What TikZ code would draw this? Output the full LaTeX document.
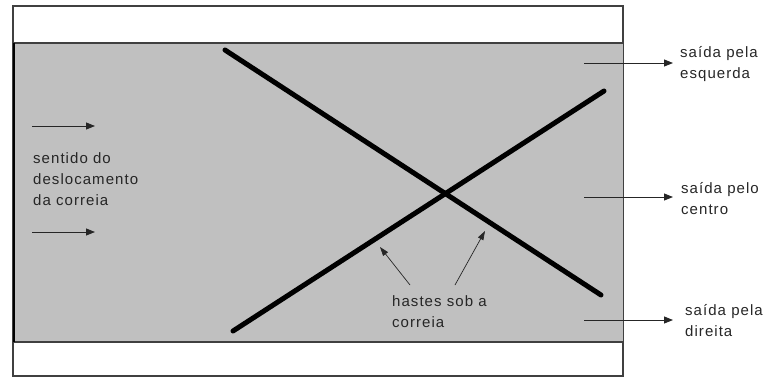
\documentclass[tikz,border=0pt]{standalone}
\usepackage{fontspec}
\setmainfont{Liberation Sans}[LetterSpace=7]
\usetikzlibrary{arrows.meta}
\definecolor{belt}{HTML}{C0C0C0}
\definecolor{frame}{HTML}{404040}
\tikzset{
  lbl/.style={inner sep=0pt, anchor=base west, align=left, font=\fontsize{15}{21}\selectfont, text=black!85},
  flow/.style={line width=0.9pt, black!85, -{Triangle[length=9pt,width=7pt]}},
  rod/.style={line width=5pt, line cap=round, black},
  note/.style={line width=0.7pt, black!85, -{Triangle[length=9pt,width=6pt]}},
}
\begin{document}
\begin{tikzpicture}[x=1pt,y=-1pt]
\useasboundingbox (0,0) rectangle (763,378);
% outer frame
\draw[frame, line width=1.4pt] (13,6) rectangle (623,376);
% belt
\fill[belt] (14,43) rectangle (623,342);
\draw[frame, line width=1.4pt] (14,43) -- (623,43);
\draw[frame, line width=1.4pt] (14,342) -- (623,342);
\draw[black, line width=2pt] (14,43) -- (14,342);
% rods
\coordinate (r1a) at (225,50);
\coordinate (r1b) at (601,295);
\coordinate (r2a) at (233,331);
\coordinate (r2b) at (604,91);
\draw[rod] (r1a) -- (r1b);
\draw[rod] (r2a) -- (r2b);
% direction arrows
\coordinate (d1a) at (32,126); \coordinate (d1b) at (95,126);
\coordinate (d2a) at (32,232); \coordinate (d2b) at (95,232);
\draw[flow] (d1a) -- (d1b);
\draw[flow] (d2a) -- (d2b);
\node[lbl] (sent) at (33,205) {sentido do\\deslocamento\\da correia};
% exits
\coordinate (e1a) at (584,63); \coordinate (e1b) at (673,63);
\coordinate (e2a) at (584,197); \coordinate (e2b) at (673,197);
\coordinate (e3a) at (584,320); \coordinate (e3b) at (673,320);
\draw[flow] (e1a) -- (e1b);
\draw[flow] (e2a) -- (e2b);
\draw[flow] (e3a) -- (e3b);
\node[lbl] (esq) at (680,78) {saída pela\\esquerda};
\node[lbl] (cen) at (681,214) {saída pelo\\centro};
\node[lbl] (dir) at (685,336) {saída pela\\direita};
% rods note
\node[lbl] (hastes) at (392,327) {hastes sob a\\correia};
\coordinate (h1a) at (410,285); \coordinate (h1b) at (380,247);
\coordinate (h2a) at (455,285); \coordinate (h2b) at (485,231);
\draw[note] (h1a) -- (h1b);
\draw[note] (h2a) -- (h2b);
\end{tikzpicture}
\end{document}
